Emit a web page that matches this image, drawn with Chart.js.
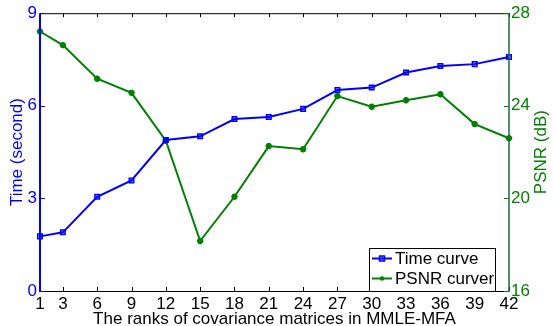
<!DOCTYPE html>
<html>
<head>
<meta charset="utf-8">
<script src="https://cdn.jsdelivr.net/npm/chart.js@4.4.1/dist/chart.umd.min.js"></script>
<style>
  html, body { margin: 0; padding: 0; background: #fff; }
  #wrap { width: 553px; height: 326px; }
</style>
</head>
<body>
<div id="wrap"><canvas id="chart" width="553" height="326"></canvas></div>
<script>
// Data
const ranks = [1, 3, 6, 9, 12, 15, 18, 21, 24, 27, 30, 33, 36, 39, 42];
const timeValues = [1.77, 1.90, 3.05, 3.58, 4.89, 5.01, 5.57, 5.64, 5.90, 6.51, 6.59, 7.08, 7.29, 7.35, 7.58];
const psnrValues = [27.21, 26.62, 25.17, 24.56, 22.49, 18.16, 20.07, 22.26, 22.12, 24.42, 23.96, 24.24, 24.50, 23.21, 22.60];
const xTicks = [1, 3, 6, 9, 12, 15, 18, 21, 24, 27, 30, 33, 36, 39, 42];
const timeTicks = [0, 3, 6, 9];
const psnrTicks = [16, 20, 24, 28];

const BLUE = '#0000ff';
const GREEN = '#008000';
const FONT = 'Liberation Sans, Arial, sans-serif';

// Frame, inward tick marks, axis titles and the boxed legend
const framePlugin = {
  id: 'frame',
  afterDatasetsDraw(chart) {
    const ctx = chart.ctx;
    const a = chart.chartArea;
    const x = chart.scales.x, y = chart.scales.y, y1 = chart.scales.y1;
    ctx.save();
    // top and bottom
    ctx.strokeStyle = '#000';
    ctx.lineWidth = 1;
    ctx.beginPath();
    ctx.moveTo(a.left, a.top + 0.5); ctx.lineTo(a.right, a.top + 0.5);
    ctx.moveTo(a.left, a.bottom + 0.5); ctx.lineTo(a.right, a.bottom + 0.5);
    xTicks.forEach(v => {
      const px = Math.round(x.getPixelForValue(v)) + 0.5;
      ctx.moveTo(px, a.top); ctx.lineTo(px, a.top + 4);
      ctx.moveTo(px, a.bottom); ctx.lineTo(px, a.bottom - 4);
    });
    ctx.stroke();
    // left axis
    ctx.strokeStyle = BLUE;
    ctx.lineWidth = 2;
    ctx.beginPath();
    ctx.moveTo(a.left, a.top); ctx.lineTo(a.left, a.bottom + 1);
    ctx.stroke();
    ctx.lineWidth = 1;
    ctx.beginPath();
    timeTicks.forEach(v => {
      const py = Math.round(y.getPixelForValue(v)) + 0.5;
      ctx.moveTo(a.left, py); ctx.lineTo(a.left + 5, py);
    });
    ctx.stroke();
    // right axis
    ctx.strokeStyle = '#1a6a3a';
    ctx.lineWidth = 1.5;
    ctx.beginPath();
    ctx.moveTo(a.right, a.top); ctx.lineTo(a.right, a.bottom + 1);
    ctx.stroke();
    ctx.strokeStyle = GREEN;
    ctx.lineWidth = 1;
    ctx.beginPath();
    psnrTicks.forEach(v => {
      const py = Math.round(y1.getPixelForValue(v)) + 0.5;
      ctx.moveTo(a.right, py); ctx.lineTo(a.right - 5, py);
    });
    ctx.stroke();

    // axis titles
    ctx.font = '17px ' + FONT;
    ctx.textAlign = 'center';
    ctx.textBaseline = 'middle';
    const midY = (a.top + a.bottom) / 2;
    ctx.fillStyle = BLUE;
    ctx.save();
    ctx.translate(17, midY);
    ctx.rotate(-Math.PI / 2);
    ctx.fillText('Time (second)', 0, 0);
    ctx.restore();
    ctx.fillStyle = GREEN;
    ctx.save();
    ctx.translate(541, midY);
    ctx.rotate(-Math.PI / 2);
    ctx.fillText('PSNR (dB)', 0, 0);
    ctx.restore();
    ctx.fillStyle = '#000';
    ctx.textBaseline = 'alphabetic';
    ctx.fillText('The ranks of covariance matrices in MMLE-MFA', (a.left + a.right) / 2, 324);

    // legend
    const lx = 369, ly = 248, lw = 126, lh = 43;
    ctx.fillStyle = '#fff';
    ctx.fillRect(lx, ly, lw, lh);
    ctx.strokeStyle = '#000';
    ctx.lineWidth = 1;
    ctx.strokeRect(lx + 0.5, ly + 0.5, lw, lh);
    const rows = [
      { label: 'Time curve', color: BLUE, y: 258.5, mark: 'rect' },
      { label: 'PSNR curver', color: GREEN, y: 278.5, mark: 'star' }
    ];
    rows.forEach(r => {
      ctx.strokeStyle = r.color;
      ctx.lineWidth = 2;
      ctx.beginPath();
      ctx.moveTo(372, r.y); ctx.lineTo(392, r.y);
      ctx.stroke();
      ctx.lineWidth = 1.5;
      if (r.mark === 'rect') {
        ctx.fillStyle = 'rgba(0,0,255,0.35)';
        ctx.fillRect(379.5, r.y - 2.5, 5, 5);
        ctx.strokeRect(379.5, r.y - 2.5, 5, 5);
      } else {
        ctx.fillStyle = r.color;
        ctx.beginPath();
        ctx.arc(382, r.y, 2.2, 0, Math.PI * 2);
        ctx.fill();
      }
      ctx.fillStyle = '#000';
      ctx.textAlign = 'left';
      ctx.textBaseline = 'middle';
      ctx.font = '17px ' + FONT;
      ctx.fillText(r.label, 395, r.y + 1);
    });
    ctx.restore();
  }
};

new Chart(document.getElementById('chart'), {
  type: 'line',
  data: {
    datasets: [
      {
        label: 'Time curve',
        data: ranks.map((r, i) => ({ x: r, y: timeValues[i] })),
        yAxisID: 'y',
        borderColor: BLUE,
        backgroundColor: 'rgba(0,0,255,0.35)',
        borderWidth: 2,
        pointStyle: 'rect',
        pointRadius: 3.2,
        pointBorderWidth: 1.5,
        tension: 0
      },
      {
        label: 'PSNR curver',
        data: ranks.map((r, i) => ({ x: r, y: psnrValues[i] })),
        yAxisID: 'y1',
        borderColor: GREEN,
        backgroundColor: GREEN,
        borderWidth: 2,
        pointStyle: 'star',
        pointRadius: 3.2,
        pointBorderWidth: 2,
        tension: 0
      }
    ]
  },
  options: {
    responsive: false,
    devicePixelRatio: 1,
    animation: false,
    clip: false,
    layout: { padding: { top: 13, left: 0, right: 0, bottom: 0 } },
    plugins: {
      legend: { display: false },
      tooltip: { enabled: false }
    },
    scales: {
      x: {
        type: 'linear',
        min: 1,
        max: 42,
        afterBuildTicks: s => { s.ticks = xTicks.map(v => ({ value: v })); },
        afterFit: s => { s.height = 35; },
        grid: { display: false, drawTicks: false },
        border: { display: false },
        ticks: { color: '#000', font: { family: FONT, size: 17 }, padding: 3, maxRotation: 0, autoSkip: false }
      },
      y: {
        position: 'left',
        min: 0,
        max: 9,
        afterBuildTicks: s => { s.ticks = timeTicks.map(v => ({ value: v })); },
        afterFit: s => { s.width = 40; },
        grid: { display: false, drawTicks: false },
        border: { display: false },
        ticks: { color: BLUE, font: { family: FONT, size: 17 }, padding: 3 }
      },
      y1: {
        position: 'right',
        min: 16,
        max: 28,
        afterBuildTicks: s => { s.ticks = psnrTicks.map(v => ({ value: v })); },
        afterFit: s => { s.width = 44; },
        grid: { display: false, drawTicks: false },
        border: { display: false },
        ticks: { color: GREEN, font: { family: FONT, size: 17 }, padding: 2 }
      }
    }
  },
  plugins: [framePlugin]
});
</script>
</body>
</html>
